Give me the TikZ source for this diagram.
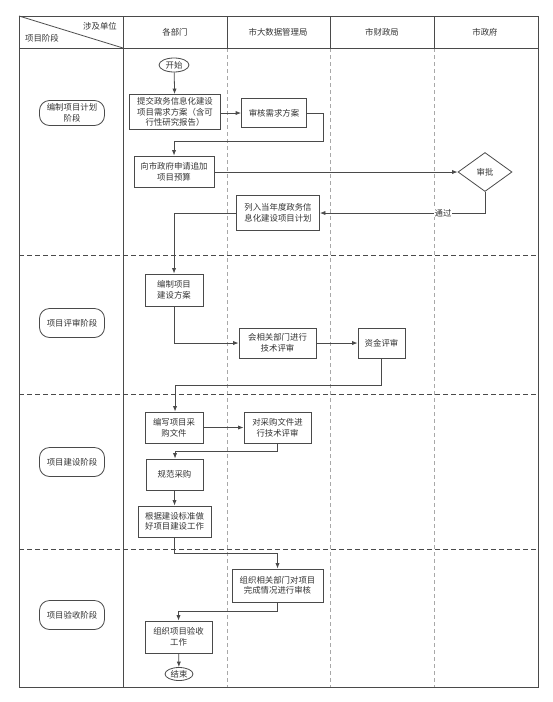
\documentclass[tikz,border=0pt]{standalone}
\usepackage{fontspec}
\setmainfont{Noto Sans CJK SC}
\usetikzlibrary{shapes.geometric,arrows.meta}
\definecolor{ln}{HTML}{4A4A4A}
\definecolor{tx}{HTML}{333333}
\definecolor{lane}{HTML}{A8A8A8}
\begin{document}
\begin{tikzpicture}[x=1pt,y=-1pt,
  font=\fontsize{8.4}{10.6}\selectfont, text=tx,
  frame/.style={draw=ln, line width=0.8pt},
  lanel/.style={draw=lane, line width=0.6pt, dash pattern=on 4pt off 3pt},
  rowl/.style={draw=ln, line width=0.7pt, dash pattern=on 5pt off 3pt},
  box/.style={draw=ln, line width=0.8pt, rectangle, inner sep=0pt, align=center},
  stage/.style={draw=ln, line width=0.8pt, rectangle, rounded corners=10pt, inner sep=0pt, align=center, minimum width=65pt},
  term/.style={draw=ln, line width=0.8pt, ellipse, inner sep=0pt},
  flow/.style={draw=ln, line width=0.8pt, -{Latex[length=5.5pt,width=4.2pt]}},
  plain/.style={draw=ln, line width=0.8pt}]
\useasboundingbox (0,0) rectangle (552,702);
% lanes
\draw[lanel] (227,48) -- (227,687);
\draw[lanel] (330,48) -- (330,687);
\draw[lanel] (434,48) -- (434,687);
\draw[rowl] (19,255) -- (538,255);
\draw[rowl] (19,394) -- (538,394);
\draw[rowl] (19,549) -- (538,549);
% frame
\draw[frame] (19,16) rectangle (538,687);
\draw[frame] (19,48) -- (538,48);
\draw[frame] (123,16) -- (123,687);
\draw[frame] (227,16) -- (227,48);
\draw[frame] (330,16) -- (330,48);
\draw[frame] (434,16) -- (434,48);
\draw[frame] (19,16) -- (123,48);
% header texts
\node (h0a) at (100,26) {涉及单位};
\node (h0b) at (42,38) {项目阶段};
\node (h1) at (175,32) {各部门};
\node (h2) at (278,32) {市大数据管理局};
\node (h3) at (382,32) {市财政局};
\node (h4) at (485,32) {市政府};
% stages
\node[stage, minimum height=25pt] (s1) at (72,113) {编制项目计划\\阶段};
\node[stage, minimum height=29pt] (s2) at (72,323) {项目评审阶段};
\node[stage, minimum height=29pt] (s3) at (72,462) {项目建设阶段};
\node[stage, minimum height=29pt] (s4) at (72,615) {项目验收阶段};
% nodes
\node[term, minimum width=30pt, minimum height=14pt] (start) at (174,65) {开始};
\node[box, minimum width=91pt, minimum height=35pt] (n1) at (175,112) {提交政务信息化建设\\项目需求方案（含可\\行性研究报告）};
\node[box, minimum width=65pt, minimum height=29pt] (n2) at (274,113) {审核需求方案};
\node[box, minimum width=80pt, minimum height=31pt] (n3) at (174,171.5) {向市政府申请追加\\项目预算};
\node[diamond, draw=ln, line width=0.8pt, minimum width=54pt, minimum height=39pt, inner sep=0pt] (d1) at (485,172) {审批};
\node[box, minimum width=83pt, minimum height=35pt] (n4) at (278,213) {列入当年度政务信\\息化建设项目计划};
\node[box, minimum width=58pt, minimum height=32pt] (n5) at (174,290) {编制项目\\建设方案};
\node[box, minimum width=77pt, minimum height=30pt] (n6) at (277.5,343) {会相关部门进行\\技术评审};
\node[box, minimum width=47pt, minimum height=30pt] (n7) at (381.5,343) {资金评审};
\node[box, minimum width=58pt, minimum height=31pt] (n8) at (174,427.5) {编写项目采\\购文件};
\node[box, minimum width=67pt, minimum height=31pt] (n9) at (277.5,427.5) {对采购文件进\\行技术评审};
\node[box, minimum width=57pt, minimum height=31pt] (n10) at (174.5,474.5) {规范采购};
\node[box, minimum width=73pt, minimum height=31pt] (n11) at (174.5,521.5) {根据建设标准做\\好项目建设工作};
\node[box, minimum width=91pt, minimum height=33pt] (n12) at (277.5,585.5) {组织相关部门对项目\\完成情况进行审核};
\node[box, minimum width=67pt, minimum height=32pt] (n13) at (178.5,637) {组织项目验收\\工作};
\node[term, minimum width=28pt, minimum height=13pt] (end) at (179,674) {结束};
% connectors
\draw[flow] (start) -- (n1);
\draw[flow] (n1.east |- n2.west) -- (n2.west);
\draw[flow] (n2.east) -| (323,141) -| (n3.north);
\draw[flow] (n3.east |- d1.west) -- (d1.west);
\draw[flow] (d1.south) |- (n4.east) node[pos=0.627, fill=white, inner sep=0.5pt] (lbl) {通过};
\draw[flow] (n4.west) -| (n5.north);
\draw[flow] (n5.south) |- (n6.west);
\draw[flow] (n6.east) -- (n7.west);
\draw[flow] (n7.south) |- (175,385) -- (n8.north -| 175,0);
\draw[flow] (n8.east) -- (n9.west);
\draw[flow] (n9.south) |- (175,451) -- (n10.north -| 175,0);
\draw[flow] (n10) -- (n11);
\draw[flow] (n11.south) |- (277.5,553) -- (n12.north);
\draw[flow] (n12.south) |- (178.5,611) -- (n13.north);
\draw[flow] (n13) -- (end);
\end{tikzpicture}
\end{document}
